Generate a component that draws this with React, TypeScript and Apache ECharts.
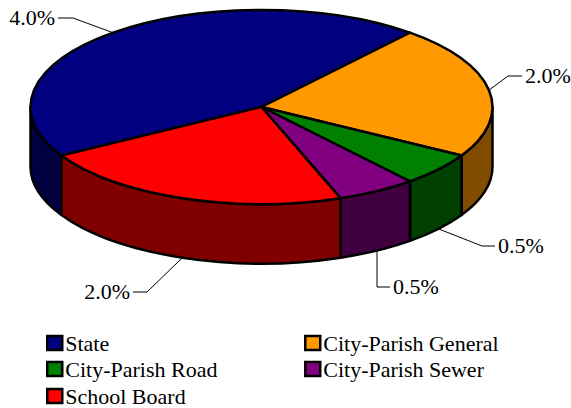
import React, { useEffect, useRef } from "react";
import * as echarts from "echarts";

const categories = ["State", "City-Parish General", "City-Parish Road", "City-Parish Sewer", "School Board"];
const values = [4.0, 2.0, 0.5, 0.5, 2.0];
const valueLabels = ["4.0%", "2.0%", "0.5%", "0.5%", "2.0%"];
const topColors = ["#000080", "#FF9900", "#008000", "#800080", "#FF0000"];
const sideColors = ["#000040", "#804C00", "#004000", "#400040", "#800000"];

// leader elbows and label anchors, relative to chart
const elbows = [
  [[73, 18], [58, 18]],
  [[508, 76], [522, 76]],
  [[482, 246], [495, 246]],
  [[377, 287], [390, 287]],
  [[147, 292], [133, 292]],
];
const labelAligns = ["right", "left", "left", "left", "right"];
const legendPos = [
  [46, 332],
  [304, 332],
  [46, 358],
  [304, 358],
  [46, 385],
];

const FONT = '"Liberation Serif", serif';
const CX = 261.5, CY = 107, RX = 231, RY = 97, DEPTH = 59.5, START = 210;
const total = values.reduce((a, b) => a + b, 0);

const pt = (deg: number, dy = 0) => {
  const t = (deg * Math.PI) / 180;
  return [CX + RX * Math.cos(t), CY - RY * Math.sin(t) + dy];
};
const arcTo = (p: number[], from: number, to: number, sweep: number) =>
  `A ${RX} ${RY} 0 ${Math.abs(to - from) > 180 ? 1 : 0} ${sweep} ${p[0]} ${p[1]}`;

const makeRenderItem = (index: number) => (_params: any, api: any) => {
  const before = values.slice(0, index).reduce((a, b) => a + b, 0);
  const a0 = START - (before / total) * 360; // clockwise from START
  const a1 = a0 - (api.value(0) / total) * 360;
  const children: any[] = [];

  // side wall: visible only where the rim faces the viewer
  const fronts = [[360, 180], [0, -180]];
  fronts.forEach(([hi, lo]) => {
    const s = Math.min(a0, hi);
    const e = Math.max(a1, lo);
    if (s <= e) return;
    const p0 = pt(s), p1 = pt(e), q0 = pt(s, DEPTH), q1 = pt(e, DEPTH);
    children.push({
      type: "path",
      shape: {
        pathData: `M ${p0[0]} ${p0[1]} ${arcTo(p1, s, e, 1)} L ${q1[0]} ${q1[1]} ${arcTo(q0, e, s, 0)} Z`,
      },
      style: { fill: sideColors[index], stroke: "#000", lineWidth: 2.5, lineJoin: "round" },
    });
  });

  // top face
  const p0 = pt(a0), p1 = pt(a1);
  children.push({
    type: "path",
    shape: {
      pathData: `M ${CX} ${CY} L ${p0[0]} ${p0[1]} ${arcTo(p1, a0, a1, 1)} Z`,
    },
    style: { fill: topColors[index], stroke: "#000", lineWidth: 2.5, lineJoin: "round" },
  });

  // leader line from the mid-angle of the slice
  const mid = (a0 + a1) / 2;
  const norm = ((mid % 360) + 360) % 360;
  const onWall = norm > 180 && norm < 360;
  const anchor = pt(mid, onWall ? DEPTH : 0);
  const [e1, e2] = elbows[index];
  children.push({
    type: "polyline",
    shape: { points: [anchor, e1, e2] },
    style: { fill: "none", stroke: "#000", lineWidth: 1 },
    z2: -1,
  });
  const right = labelAligns[index] === "right";
  children.push({
    type: "text",
    x: e2[0] + (right ? -3 : 3),
    y: e2[1] - 1,
    style: {
      text: valueLabels[index],
      font: `22px ${FONT}`,
      fill: "#000",
      align: labelAligns[index],
      verticalAlign: "middle",
    },
    z2: 6,
  });
  return { type: "group", children };
};

export default function App() {
  const ref = useRef<HTMLDivElement>(null);
  useEffect(() => {
    document.body.style.margin = "0";
    const chart = echarts.init(ref.current!, undefined, { renderer: "svg" });
    chart.setOption({
      animation: false,
      backgroundColor: "#fff",
      legend: categories.map((name, i) => ({
        data: [name],
        left: legendPos[i][0],
        top: legendPos[i][1],
        padding: 0,
        itemWidth: 15,
        itemHeight: 14,
        itemGap: 0,
        icon: "rect",
        selectedMode: false,
        itemStyle: { borderColor: "#000", borderWidth: 2.5 },
        textStyle: { fontFamily: FONT, fontSize: 22, color: "#000", padding: [0, 0, 0, -2] },
      })),
      series: categories.map((name, i) => ({
        type: "custom",
        name,
        coordinateSystem: "none",
        silent: true,
        color: topColors[i],
        itemStyle: { color: topColors[i] },
        data: [[values[i]]],
        renderItem: makeRenderItem(i),
      })),
    });
    return () => chart.dispose();
  }, []);
  return <div ref={ref} style={{ width: 571, height: 408 }} />;
}
